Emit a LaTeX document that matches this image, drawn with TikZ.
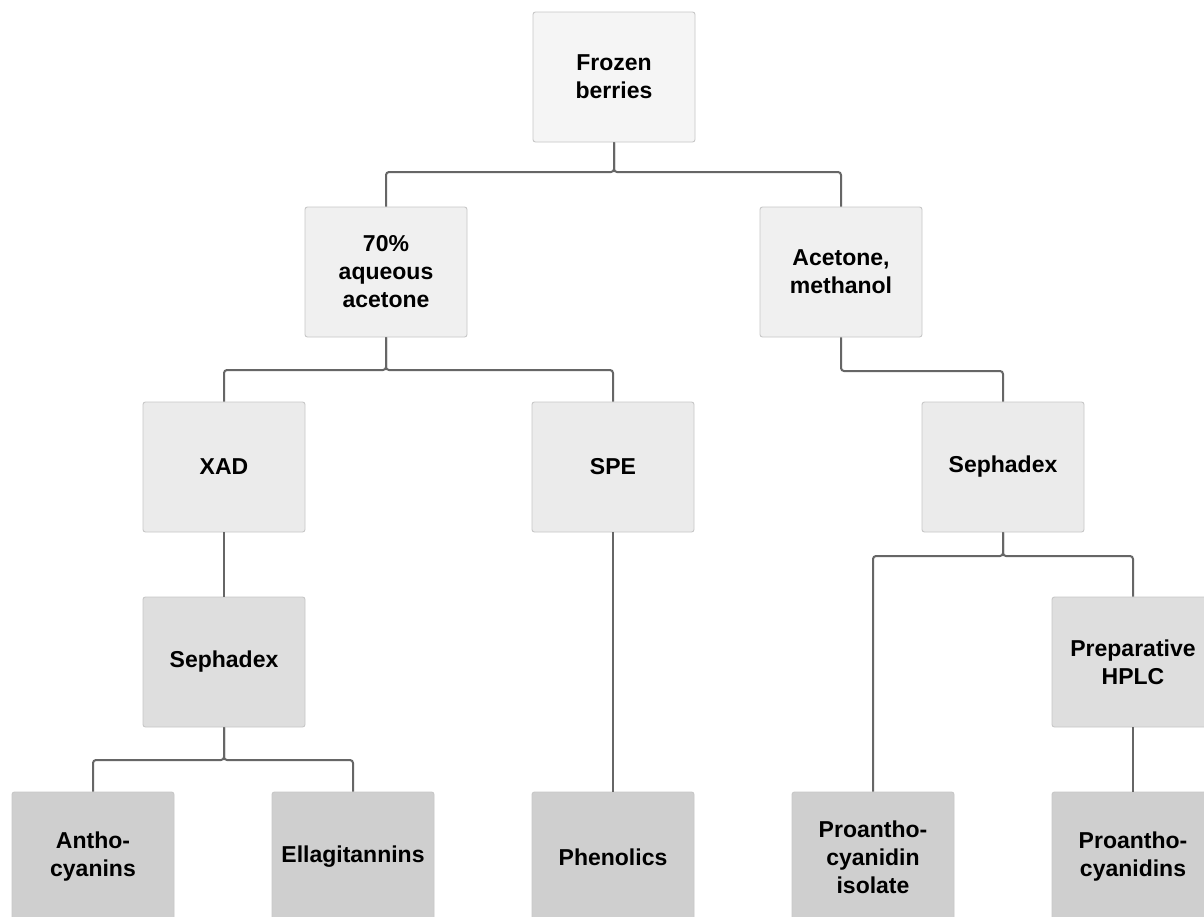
\documentclass[tikz,border=0pt]{standalone}
\usepackage{fontspec}
\setmainfont{Liberation Sans}
\begin{document}
\begin{tikzpicture}[x=1pt,y=-1pt,
  box/.style={draw=black!22, line width=0.9pt, rounded corners=2.5pt,
    minimum width=162pt, minimum height=130pt, inner sep=0pt,
    align=center, font=\fontsize{23}{28}\selectfont\bfseries},
  lvA/.style={box, fill=black!4},
  lvB/.style={box, fill=black!6},
  lvC/.style={box, fill=black!8},
  lvD/.style={box, fill=black!13},
  lvE/.style={box, fill=black!19},
  conn/.style={draw=black!60, line width=2pt, rounded corners=3pt}]
\useasboundingbox (0,0) rectangle (1204,916);
\fill[white] (0,0) rectangle (1204,916);
\node[lvA] (fb) at (614,77) {Frozen\\berries};
\node[lvB] (aq) at (386,272) {70\%\\aqueous\\acetone};
\node[lvB] (am) at (841,272) {Acetone,\\methanol};
\node[lvC] (xad) at (224,467) {XAD};
\node[lvC] (spe) at (613,467) {SPE};
\node[lvC] (seph2) at (1003,467) {Sephadex};
\node[lvD] (seph1) at (224,662) {Sephadex};
\node[lvD] (hplc) at (1133,662) {Preparative\\HPLC};
\node[lvE] (anth) at (93,857) {Antho-\\cyanins};
\node[lvE] (ella) at (353,857) {Ellagitannins};
\node[lvE] (phen) at (613,857) {Phenolics};
\node[lvE] (pai) at (873,857) {Proantho-\\cyanidin\\isolate};
\node[lvE] (pas) at (1133,857) {Proantho-\\cyanidins};
% connectors
\draw[conn] (fb.south) -- (fb.south |- 0,172) -| (aq.north);
\draw[conn] (fb.south) -- (fb.south |- 0,172) -| (am.north);
\draw[conn] (aq.south) -- (aq.south |- 0,370) -| (xad.north);
\draw[conn] (aq.south) -- (aq.south |- 0,370) -| (spe.north);
\draw[conn] (am.south) |- (seph2.north |- 0,371) -- (seph2.north);
\draw[conn] (seph2.south) -- (seph2.south |- 0,556) -| (pai.north);
\draw[conn] (seph2.south) -- (seph2.south |- 0,556) -| (hplc.north);
\draw[conn] (xad.south) -- (seph1.north);
\draw[conn] (spe.south) -- (phen.north);
\draw[conn] (hplc.south) -- (pas.north);
\draw[conn] (seph1.south) -- (seph1.south |- 0,760) -| (anth.north);
\draw[conn] (seph1.south) -- (seph1.south |- 0,760) -| (ella.north);
\end{tikzpicture}
\end{document}
